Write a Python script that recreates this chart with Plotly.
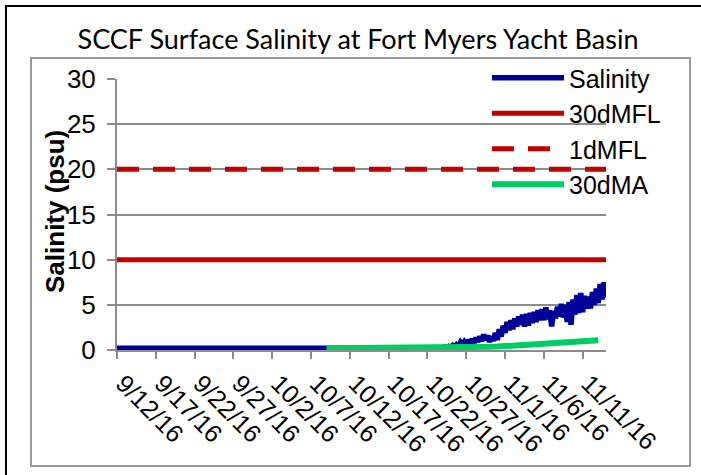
import plotly.graph_objects as go
from datetime import datetime, timedelta

# ---------------- data ----------------
# daily salinity 9/12/16 .. 10/23/16
early_start = "2016-09-12"
early_salinity = [0.18, 0.19, 0.18, 0.20, 0.19, 0.21, 0.20, 0.19, 0.20, 0.22,
                  0.20, 0.19, 0.18, 0.19, 0.20, 0.19, 0.18, 0.18, 0.19, 0.20,
                  0.19, 0.18, 0.19, 0.20, 0.19, 0.18, 0.19, 0.20, 0.21, 0.20,
                  0.19, 0.20, 0.22, 0.25, 0.28, 0.24, 0.22, 0.26, 0.30, 0.25,
                  0.22, 0.24]
# 6-hourly salinity 10/24/16 00:00 .. 11/14/16 00:00
late_start = "2016-10-24"
late_salinity = [
    0.20, 0.35, 0.25, 0.40,
    0.30, 0.50, 0.35, 0.60,
    0.45, 0.85, 0.55, 0.90,
    0.60, 1.10, 0.75, 1.20,
    0.80, 1.35, 0.90, 1.50,
    1.00, 1.70, 1.10, 1.60,
    0.90, 1.50, 1.00, 1.90,
    1.10, 2.30, 1.50, 2.70,
    1.90, 3.10, 2.20, 3.30,
    2.30, 3.50, 2.60, 3.70,
    2.80, 3.90, 2.60, 4.00,
    2.70, 4.10, 3.00, 4.20,
    3.10, 4.40, 3.30, 4.50,
    3.30, 4.70, 3.40, 4.40,
    2.60, 4.30, 3.50, 4.80,
    3.70, 5.10, 3.60, 5.00,
    3.10, 5.30, 2.80, 5.60,
    3.90, 6.10, 4.10, 6.30,
    4.20, 6.00, 4.60, 5.90,
    4.60, 6.40, 5.00, 6.80,
    5.20, 7.30, 5.60, 7.50,
    5.80,
]
# 30-day moving average, daily from 10/9/16
ma_start = "2016-10-09"
ma30 = [0.20, 0.20, 0.20, 0.20, 0.20, 0.20, 0.20, 0.20, 0.20, 0.20,
        0.20, 0.20, 0.21, 0.21, 0.22, 0.23, 0.24, 0.25, 0.27, 0.29,
        0.32, 0.35, 0.38, 0.42, 0.46, 0.50, 0.55, 0.60, 0.65, 0.71,
        0.77, 0.83, 0.89, 0.95, 1.02, 1.08]
flow_dates = ["2016-09-12", "2016-11-14"]
mfl30 = [10, 10]
mfl1 = [20, 20]

x_range = ["2016-09-12", "2016-11-14"]
y_range = [0, 30]

# -------------- build x values --------------
def daily(start, n):
    d0 = datetime.strptime(start, "%Y-%m-%d")
    return [d0 + timedelta(days=i) for i in range(n)]

def sixhourly(start, n):
    d0 = datetime.strptime(start, "%Y-%m-%d")
    return [d0 + timedelta(hours=6 * i) for i in range(n)]

sal_x = daily(early_start, len(early_salinity)) + sixhourly(late_start, len(late_salinity))
sal_y = early_salinity + late_salinity
ma_x = daily(ma_start, len(ma30))

BLUE = "#000099"
RED = "#C00000"
GREEN = "#00CC66"
GRID = "#8C8C8C"
FONT = "Liberation Sans, Arial, sans-serif"

fig = go.Figure()
fig.add_trace(go.Scatter(x=sal_x, y=sal_y, mode="lines", name="Salinity",
                         line=dict(color=BLUE, width=5.5)))
fig.add_trace(go.Scatter(x=flow_dates, y=mfl30, mode="lines", name="30dMFL",
                         line=dict(color=RED, width=5)))
fig.add_trace(go.Scatter(x=flow_dates, y=mfl1, mode="lines", name="1dMFL",
                         line=dict(color=RED, width=5, dash="22px,14px")))
fig.add_trace(go.Scatter(x=ma_x, y=ma30, mode="lines", name="30dMA",
                         line=dict(color=GREEN, width=6)))

L, R, T, B = 117, 95, 79, 125
W, H = 701, 475
pw = W - L - R
ph = H - T - B

def px(xp):
    return (xp - L) / pw

def py(yp):
    return (H - B - yp) / ph

fig.update_layout(
    width=W, height=H,
    margin=dict(l=L, r=R, t=T, b=B, autoexpand=False),
    paper_bgcolor="white", plot_bgcolor="white",
    font=dict(family=FONT, color="black"),
    title=dict(text="SCCF Surface Salinity at Fort Myers Yacht Basin",
               x=358 / W, xanchor="center", xref="container",
               y=1 - 40 / H, yanchor="middle", yref="container",
               font=dict(family="Lato, sans-serif", size=27, color="black")),
    showlegend=True,
    legend=dict(x=px(487), xanchor="left", y=py(55), yanchor="top",
                bgcolor="rgba(0,0,0,0)", font=dict(size=25, family=FONT),
                tracegroupgap=0, itemwidth=72),
    xaxis=dict(type="date", range=x_range, tick0="2016-09-12",
               dtick=5 * 86400000, tickformat="%-m/%-d/%y", tickangle=45,
               showgrid=False, showline=True, linecolor=GRID, linewidth=2,
               ticks="outside", ticklen=7, tickcolor=GRID, tickwidth=1.5,
               tickfont=dict(size=25, family=FONT, color="black"),
               ticklabelshift=6, zeroline=False),
    yaxis=dict(range=y_range, dtick=5, showgrid=True, gridcolor=GRID,
               gridwidth=1.5, showline=True, linecolor=GRID, linewidth=2,
               ticks="outside", ticklen=8, tickcolor=GRID, tickwidth=1.5,
               tickfont=dict(size=26, family=FONT, color="black"),
               ticklabelstandoff=6, zeroline=False),
    shapes=[
        dict(type="rect", xref="paper", yref="paper",
             x0=px(6), x1=px(730), y0=py(500), y1=py(6),
             line=dict(color="black", width=2), layer="below"),
        dict(type="rect", xref="paper", yref="paper",
             x0=px(31), x1=px(690), y0=py(466), y1=py(58),
             line=dict(color="#999999", width=2), layer="below"),
    ],
    annotations=[
        dict(text="<b>Salinity (psu)</b>", xref="paper", yref="paper",
             x=px(55), y=py(212), xanchor="center", yanchor="middle",
             textangle=-90, showarrow=False,
             font=dict(size=26, family=FONT, color="black")),
    ],
)

fig.write_html("out.html", config={"displayModeBar": False},
               post_script="document.body.style.margin='0';")
